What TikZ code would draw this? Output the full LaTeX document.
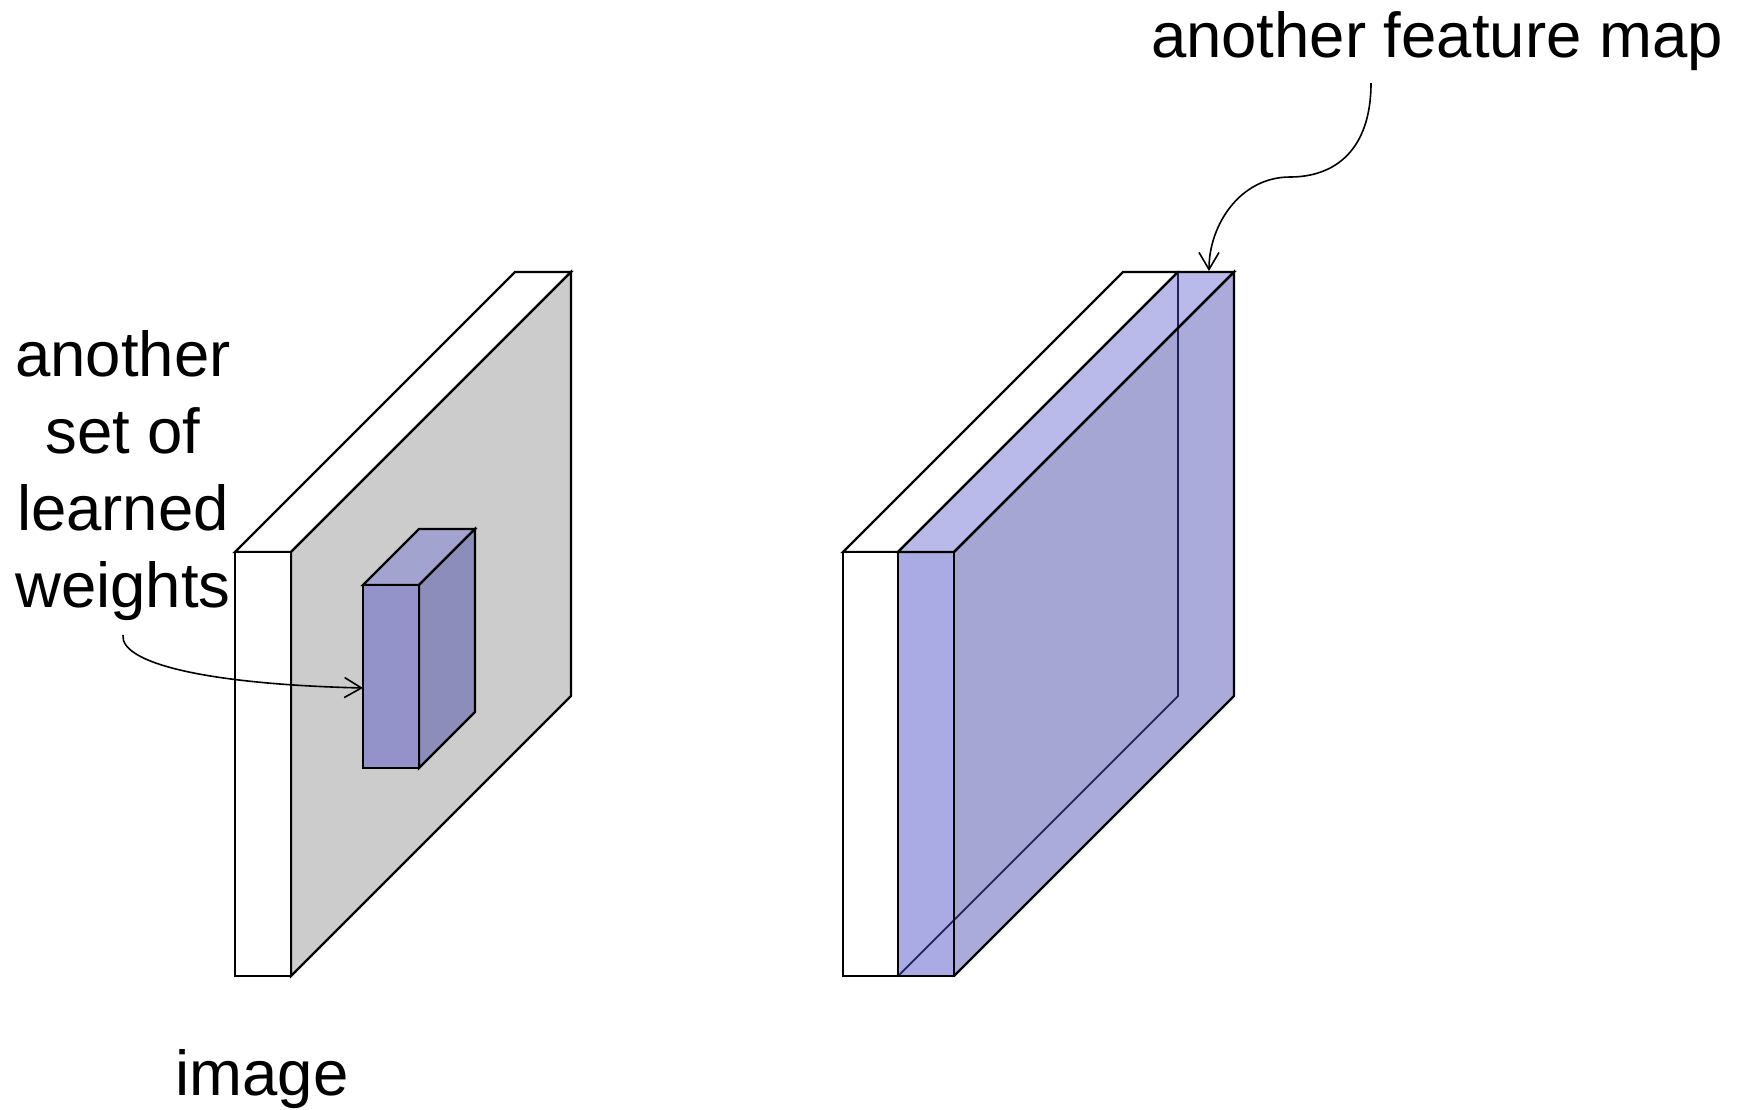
\documentclass[tikz,border=0pt]{standalone}
\usepackage{fontspec}
\setmainfont{Liberation Sans}
\usetikzlibrary{arrows.meta}
\definecolor{grayface}{HTML}{CCCCCC}
\definecolor{cubefront}{HTML}{9393C9}
\definecolor{cubetop}{HTML}{A3A3D0}
\definecolor{cuberight}{HTML}{8D8DBB}
\definecolor{fmfront}{HTML}{AAAAE4}
\definecolor{fmtop}{HTML}{BABAEA}
\definecolor{fmside}{HTML}{AAAADB}
\definecolor{fmmain}{HTML}{A6A6D4}
\definecolor{hiddenedge}{HTML}{22225A}
\begin{document}
\begin{tikzpicture}[x=0.5pt,y=-0.5pt,
  edge/.style={draw=black,line width=1.1pt,line join=miter},
  hid/.style={draw=hiddenedge,line width=0.9pt},
  conn/.style={draw=black,line width=0.8pt,-{Straight Barb[length=8.5pt,width=10pt]}},
  lbl/.style={inner sep=0pt,font=\fontsize{31.75}{38.5}\selectfont},
  toplbl/.style={inner sep=0pt,font=\fontsize{31.75}{38}\selectfont}]
\useasboundingbox (0,0) rectangle (1746,1109);

% ---- left slab (image) ----
\filldraw[edge,fill=white] (235,552) -- (515,272) -- (571,272) -- (291,552) -- cycle;
\filldraw[edge,fill=grayface] (291,552) -- (571,272) -- (571,696) -- (291,976) -- cycle;
\filldraw[edge,fill=white] (235,552) rectangle (291,976);

% ---- small cube (weights) ----
\filldraw[edge,fill=cubetop] (363,585) -- (419,529) -- (475,529) -- (419,585) -- cycle;
\filldraw[edge,fill=cuberight] (419,585) -- (475,529) -- (475,712) -- (419,768) -- cycle;
\filldraw[edge,fill=cubefront] (363,585) rectangle (419,768);

% ---- right stack: white slab ----
\filldraw[edge,fill=white] (843,552) -- (1123,272) -- (1178,272) -- (898,552) -- cycle;
\filldraw[edge,fill=white] (843,552) rectangle (898,976);

% ---- right stack: feature map slab ----
\fill[fmside] (954,552) -- (1234,272) -- (1234,696) -- (954,976) -- cycle;
\fill[fmmain] (954,552) -- (1178,328) -- (1178,696) -- (954,920) -- cycle;
\fill[fmtop] (898,552) -- (1178,272) -- (1234,272) -- (954,552) -- cycle;
\fill[fmfront] (898,552) rectangle (954,976);
\draw[hid] (1178,272) -- (1178,696) -- (898,976);
\draw[edge] (898,552) -- (1178,272) -- (1234,272) -- (954,552) -- cycle;
\draw[edge] (954,552) -- (1234,272) -- (1234,696) -- (954,976);
\draw[edge] (898,552) rectangle (954,976);

% ---- labels ----
\node[toplbl,anchor=base] (fmlabel) at (1437,57) {another feature map};
\node[lbl,align=center,anchor=north] (wlabel) at (123,330) {another\\set of\\learned\\weights};
\node[lbl,anchor=base] (imglabel) at (262,1095) {image};

% ---- connectors ----
\coordinate (wstart) at (123,635);
\coordinate (cubeL) at (363,688);
\coordinate (fstart) at (1371,83);
\coordinate (fend) at (1209,271);
\draw[conn] (wstart) .. controls (120,662) and (200,684) .. (cubeL);
\draw[conn] (fstart) .. controls (1371,150) and (1335,177) .. (1290,177)
                     .. controls (1240,177) and (1209,225) .. (fend);
\end{tikzpicture}
\end{document}
